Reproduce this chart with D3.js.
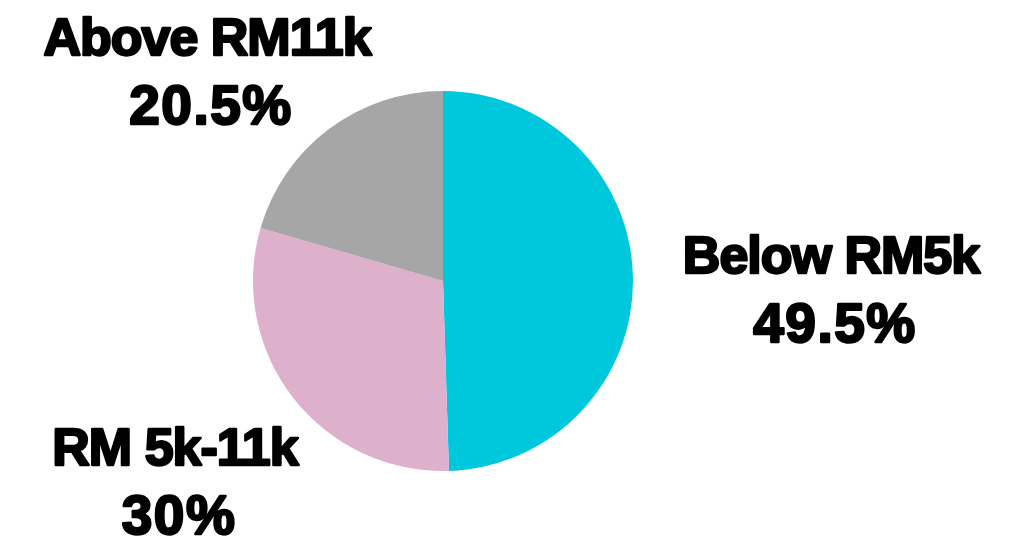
<!DOCTYPE html>
<html>
<head>
<meta charset="utf-8">
<script src="https://cdn.jsdelivr.net/npm/d3@7"></script>
<style>
  html, body { margin: 0; padding: 0; background: #fff; }
  svg { display: block; }
  .lbl { font-family: "Liberation Sans", Arial, sans-serif; font-weight: bold; fill: #000;
         stroke: #000; stroke-width: 2.4px; stroke-linejoin: round; }
  .name { letter-spacing: -1px; font-size: 52px; }
  .pct { letter-spacing: 1.5px; font-size: 55px; }
</style>
</head>
<body>
<svg id="chart" width="1026" height="538"></svg>
<script>
// Household income groups
const categories = ["Below RM5k", "RM 5k-11k", "Above RM11k"];
const shares = [49.5, 30, 20.5];
const shareLabels = ["49.5%", "30%", "20.5%"];
const colors = ["#00C8DC", "#DDB0CC", "#A6A6A6"];

// Label anchor points (name line baseline) for each slice
const labelAnchors = [[831, 273], [175, 465], [207, 55]];

const cx = 443, cy = 281, R = 190;

const svg = d3.select("#chart");
const g = svg.append("g").attr("transform", `translate(${cx},${cy})`);

const pie = d3.pie().sort(null).value(d => d.v);
const arc = d3.arc().innerRadius(0).outerRadius(R);
const data = categories.map((c, i) => ({ c, v: shares[i], p: shareLabels[i], col: colors[i] }));

g.selectAll("path")
  .data(pie(data))
  .join("path")
  .attr("d", arc)
  .attr("fill", d => d.data.col);

const lab = svg.append("g");
data.forEach((d, i) => {
  const [x, y] = labelAnchors[i];
  lab.append("text").attr("class", "lbl name").attr("x", x).attr("y", y)
    .attr("text-anchor", "middle").text(d.c);
  lab.append("text").attr("class", "lbl pct").attr("x", x + 4).attr("y", y + 69)
    .attr("text-anchor", "middle").text(d.p);
});
</script>
</body>
</html>
